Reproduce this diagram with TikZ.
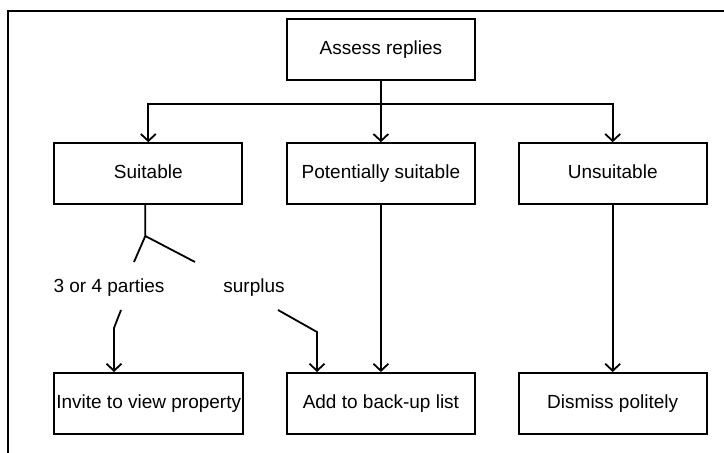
\documentclass[tikz,border=0pt]{standalone}
\usepackage{fontspec}
\setmainfont{Liberation Sans}
\usepackage{tikz}
\usetikzlibrary{calc,positioning,matrix,arrows.meta}
\tikzset{
    box/.style={
    rectangle,draw=black,line width=0.9pt,minimum width=94pt,minimum height=30.5pt,inner sep=1pt,
    text height=7pt,text depth=2pt,text centered
    },
    lbl/.style={
    rectangle,inner sep=1pt,text height=7pt,text depth=2pt
    },
  line/.style={draw, line width=0.9pt},
  arr/.style={line, -{Straight Barb[length=3.5pt,width=7.5pt]}}
}

\begin{document}
\begin{tikzpicture}[font=\fontsize{9.5pt}{11pt}\selectfont]
    \useasboundingbox (0,0) rectangle (362pt,-226.5pt);
    % frame
    \draw[line width=0.9pt] (4pt,-232pt) -- (4pt,-5.5pt) -- (366pt,-5.5pt);

    \matrix[anchor=north west,inner sep=0pt,row sep=30.5pt,column sep=21pt] at (26.5pt,-9pt) {
      & \node[box] (assess) {Assess replies}; & \\
      \node[box] (suit) {Suitable}; & \node[box] (pot) {Potentially suitable}; & \node[box] (unsuit) {Unsuitable}; \\[53pt]
      \node[box] (invite) {Invite to view property}; & \node[box] (backup) {Add to back-up list}; & \node[box] (dismiss) {Dismiss politely}; \\
    };

    \node[lbl] (parties) at (54.5pt,-144pt) {3 or 4 parties};
    \node[lbl] (surplus) at (127pt,-144pt) {surplus};

    \coordinate (hub) at ($(assess.south)+(0,-11.5pt)$);
    \coordinate (fork) at ($(suit.south)+(-1.5pt,-15.5pt)$);
    \coordinate (forkL) at ($(parties.center)+(12.5pt,13pt)$);
    \coordinate (forkR) at ($(surplus.center)+(-29.5pt,13pt)$);
    \coordinate (outL) at ($(parties.center)+(6pt,-11pt)$);
    \coordinate (bendL) at ($(parties.center)+(2.5pt,-20pt)$);
    \coordinate (outR) at ($(surplus.center)+(12pt,-11pt)$);
    \coordinate (bendR) at ($(surplus.center)+(31.5pt,-22pt)$);

    \begin{scope}[every path/.style=arr]
      \path (assess) -- (pot);
      \path (hub) -| (suit);
      \path (hub) -| (unsuit);
      \path (pot) -- (backup);
      \path (unsuit) -- (dismiss);
      \path (outL) -- (bendL) -- (bendL |- invite.north);
      \path (outR) -- (bendR) -- (bendR |- backup.north);
    \end{scope}
    \path[line] (suit.south -| fork) -- (fork) -- (forkL);
    \path[line] (fork) -- (forkR);
  \end{tikzpicture}
\end{document}
